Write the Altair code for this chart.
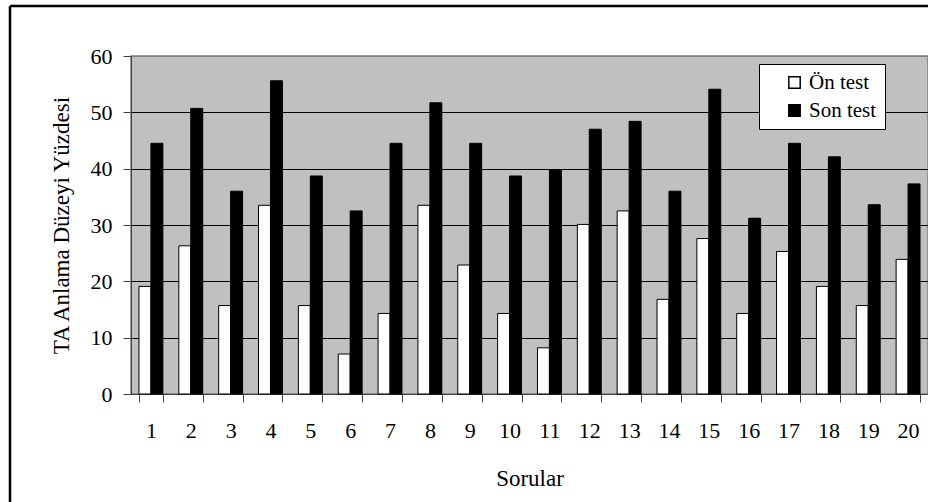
import altair as alt
import pandas as pd

questions = [str(i) for i in range(1, 21)]
on_test = [19.1, 26.3, 15.7, 33.5, 15.7, 7.1, 14.3, 33.5, 22.9, 14.3,
           8.2, 30.1, 32.5, 16.8, 27.6, 14.3, 25.3, 19.1, 15.7, 23.9]
son_test = [44.5, 50.7, 36.0, 55.6, 38.7, 32.5, 44.5, 51.7, 44.5, 38.7,
            39.8, 47.0, 48.4, 36.0, 54.1, 31.2, 44.5, 42.1, 33.6, 37.3]
series = ["Ön test", "Son test"]
y_ticks = [0, 10, 20, 30, 40, 50, 60]

rows = []
for q, a, b in zip(questions, on_test, son_test):
    rows.append({"Soru": q, "Test": series[0], "Deger": a})
    rows.append({"Soru": q, "Test": series[1], "Deger": b})
df = pd.DataFrame(rows)

FONT = "Liberation Serif"

bars = alt.Chart(df).mark_bar(stroke="black", strokeWidth=1).encode(
    x=alt.X("Soru:N", sort=questions,
            scale=alt.Scale(paddingInner=0.4, paddingOuter=0.2),
            axis=alt.Axis(title="Sorular", labelAngle=0, tickBand="extent",
                          tickSize=8, labelPadding=18, titlePadding=26,
                          labelFontSize=22, titleFontSize=23, titleFontWeight="normal",
                          domainColor="#404040", tickColor="#404040",
                          labelColor="black", titleColor="black", grid=False)),
    xOffset=alt.XOffset("Test:N", sort=series, scale=alt.Scale(paddingInner=0, paddingOuter=0)),
    y=alt.Y("Deger:Q", scale=alt.Scale(domain=[0, 60], nice=False),
            axis=alt.Axis(title="TA Anlama Düzeyi Yüzdesi", values=y_ticks,
                          tickSize=8, labelPadding=11, titlePadding=17,
                          labelFontSize=22, titleFontSize=23, titleFontWeight="normal",
                          domainColor="#404040", tickColor="#404040",
                          labelColor="black", titleColor="black",
                          grid=True,
                          gridColor=alt.condition("datum.value == 60", alt.value("#808080"), alt.value("#000000")),
                          gridWidth=1)),
    color=alt.Color("Test:N", sort=series,
                    scale=alt.Scale(domain=series, range=["#FFFFFF", "#000000"]),
                    legend=alt.Legend(title=None, orient="none", legendX=628, legendY=8,
                                      fillColor="white", strokeColor="black",
                                      padding=8, symbolOffset=17, rowPadding=6,
                                      symbolType="square", symbolSize=130,
                                      symbolStrokeColor="black", symbolStrokeWidth=1.5,
                                      labelFontSize=21, labelColor="black", labelFont=FONT)),
)

frame = pd.DataFrame({"k": [0]})
top_border = alt.Chart(frame).mark_rule(color="black", strokeWidth=2.5).encode(
    x=alt.value(-121), x2=alt.value(2000), y=alt.value(-50))
left_border = alt.Chart(frame).mark_rule(color="black", strokeWidth=2.5).encode(
    x=alt.value(-121), y=alt.value(-50), y2=alt.value(1000))

chart = alt.layer(bars, top_border, left_border).properties(
    width=797, height=338,
    autosize=alt.AutoSizeParams(type="none"),
    padding={"left": 131, "top": 56, "right": 0, "bottom": 108},
    background="white",
).configure(font=FONT).configure_view(fill="#C0C0C0", stroke="#808080", strokeWidth=1.5)

chart.save("out.html", embed_options={"renderer": "svg", "actions": False})
